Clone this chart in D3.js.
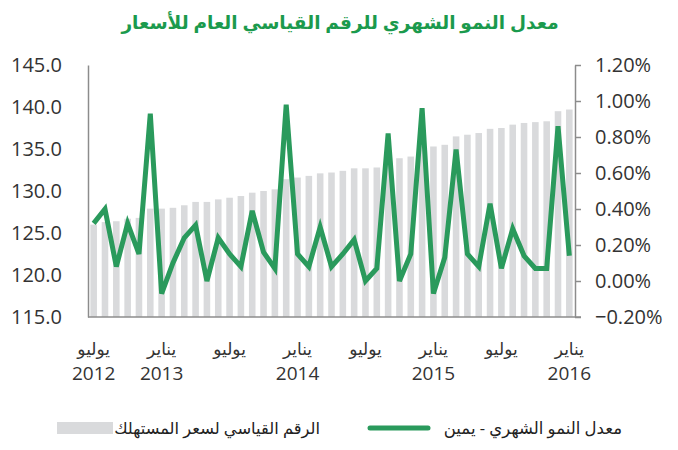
<!DOCTYPE html>
<html>
<head>
<meta charset="utf-8">
<script src="https://cdnjs.cloudflare.com/ajax/libs/d3/7.8.5/d3.min.js"></script>
<style>
    body { margin: 0; background: #ffffff; }
    svg text { font-family: "Open Sans", "DejaVu Sans", sans-serif; }
</style>
</head>
<body>
<svg id="cpiChart" width="678" height="450"></svg>
<script>
// months from July 2012 to January 2016
var months = ["2012-07", "2012-08", "2012-09", "2012-10", "2012-11", "2012-12",
    "2013-01", "2013-02", "2013-03", "2013-04", "2013-05", "2013-06",
    "2013-07", "2013-08", "2013-09", "2013-10", "2013-11", "2013-12",
    "2014-01", "2014-02", "2014-03", "2014-04", "2014-05", "2014-06",
    "2014-07", "2014-08", "2014-09", "2014-10", "2014-11", "2014-12",
    "2015-01", "2015-02", "2015-03", "2015-04", "2015-05", "2015-06",
    "2015-07", "2015-08", "2015-09", "2015-10", "2015-11", "2015-12",
    "2016-01"];

// consumer price index (left axis)
var cpiValues = [126.0, 126.3, 126.4, 126.7, 126.8, 127.9,
    127.9, 128.0, 128.3, 128.7, 128.7, 129.0,
    129.2, 129.4, 129.8, 130.0, 130.2, 131.4,
    131.6, 131.8, 132.1, 132.2, 132.4, 132.7,
    132.7, 132.8, 133.9, 133.9, 134.1, 135.4,
    135.3, 135.5, 136.5, 136.7, 136.9, 137.4,
    137.5, 137.9, 138.1, 138.2, 138.3, 139.5,
    139.7];

// monthly growth in percent (right axis)
var growthValues = [0.32, 0.40, 0.08, 0.32, 0.15, 0.93,
    -0.07, 0.10, 0.24, 0.31, 0.00, 0.24,
    0.15, 0.08, 0.39, 0.16, 0.07, 0.98,
    0.15, 0.08, 0.30, 0.08, 0.15, 0.23,
    0.00, 0.07, 0.82, 0.00, 0.15, 0.96,
    -0.07, 0.13, 0.73, 0.15, 0.08, 0.43,
    0.07, 0.29, 0.14, 0.07, 0.07, 0.86,
    0.14];

var leftTicks = [115, 120, 125, 130, 135, 140, 145];
var rightTicks = [-0.2, 0, 0.2, 0.4, 0.6, 0.8, 1.0, 1.2];

// x labels: month name row and year row
var monthLabels = [
    {month: "2012-07", name: "يوليو", year: "2012"},
    {month: "2013-01", name: "يناير", year: "2013"},
    {month: "2013-07", name: "يوليو", year: ""},
    {month: "2014-01", name: "يناير", year: "2014"},
    {month: "2014-07", name: "يوليو", year: ""},
    {month: "2015-01", name: "يناير", year: "2015"},
    {month: "2015-07", name: "يوليو", year: ""},
    {month: "2016-01", name: "يناير", year: "2016"}
];

var titleText = "معدل النمو الشهري للرقم القياسي العام للأسعار";
var legendBars = "الرقم القياسي لسعر المستهلك";
var legendLine = "معدل النمو الشهري - يمين";

var barColor = "#d9dadc";
var lineColor = "#2a9a5c";
var axisColor = "#8c8c8c";

/**
 * Draws the whole chart: bars, growth line, both axes and legend
 */
function drawCpiChart()
{
    var svg = d3.select("#cpiChart");
    var left = 88, right = 575, top = 65, bottom = 317;

    var x = d3.scaleBand()
            .domain(months)
            .range([left, right])
            .paddingInner(0.42)
            .paddingOuter(0.21);

    var yLeft = d3.scaleLinear()
            .domain([115, 145])
            .range([bottom, top]);

    var yRight = d3.scaleLinear()
            .domain([-0.2, 1.2])
            .range([bottom, top]);

    // title
    svg.append("text")
            .attr("x", 340)
            .attr("y", 29)
            .attr("text-anchor", "middle")
            .style("font-size", "18.5px")
            .style("font-weight", "bold")
            .style("fill", "#1b9a4d")
            .text(titleText);

    // bars
    svg.append("g")
            .selectAll("rect")
            .data(cpiValues)
            .enter()
            .append("rect")
            .attr("x", function(d, i) { return x(months[i]); })
            .attr("width", x.bandwidth())
            .attr("y", function(d) { return yLeft(d); })
            .attr("height", function(d) { return bottom - yLeft(d); })
            .style("fill", barColor);

    // left axis (line only, no ticks)
    var leftAxis = svg.append("g")
            .attr("transform", "translate(" + left + ",0)")
            .call(d3.axisLeft(yLeft).tickValues(leftTicks).tickSize(0).tickPadding(26)
                    .tickFormat(d3.format(".1f")));
    leftAxis.select(".domain").style("stroke", axisColor).style("stroke-width", "1.5px");
    leftAxis.selectAll("text")
            .style("font-size", "20px")
            .style("fill", "#333333");

    // right axis with small outward ticks
    var rightAxis = svg.append("g")
            .attr("transform", "translate(" + right + ",0)")
            .call(d3.axisRight(yRight).tickValues(rightTicks).tickSize(6).tickSizeOuter(0).tickPadding(14)
                    .tickFormat(d3.format(".2%")));
    rightAxis.select(".domain").style("stroke", axisColor).style("stroke-width", "1.5px");
    rightAxis.selectAll("line").style("stroke", axisColor).style("stroke-width", "1.5px");
    rightAxis.selectAll("text")
            .text(function(d) { return d3.format(".2f")(d) + "%"; })
            .style("font-size", "20px")
            .style("fill", "#333333");

    // bottom axis line
    var bottomAxis = svg.append("g")
            .attr("transform", "translate(0," + bottom + ")")
            .call(d3.axisBottom(x).tickValues([]).tickSizeOuter(0));
    bottomAxis.select(".domain")
            .attr("d", "M" + left + ",0H" + (right + 6))
            .style("stroke", axisColor)
            .style("stroke-width", "1.5px");

    // x labels
    var labels = svg.append("g")
            .selectAll("g")
            .data(monthLabels)
            .enter()
            .append("g")
            .attr("transform", function(d) {
                return "translate(" + (x(d.month) + x.bandwidth() / 2) + ",0)";
            });
    labels.append("text")
            .attr("y", 355)
            .attr("text-anchor", "middle")
            .style("font-size", "17px")
            .style("fill", "#333333")
            .text(function(d) { return d.name; });
    labels.append("text")
            .attr("y", 380)
            .attr("text-anchor", "middle")
            .style("font-size", "19px")
            .style("fill", "#333333")
            .text(function(d) { return d.year; });

    // growth line
    var line = d3.line()
            .x(function(d, i) { return x(months[i]) + x.bandwidth() / 2; })
            .y(function(d) { return yRight(d); });

    svg.append("path")
            .datum(growthValues)
            .style("stroke", lineColor)
            .style("fill", "none")
            .style("stroke-width", "5px")
            .style("stroke-linejoin", "miter")
            .attr("d", line);

    // legend
    svg.append("rect")
            .attr("x", 57)
            .attr("y", 422)
            .attr("width", 56)
            .attr("height", 12)
            .style("fill", barColor);
    svg.append("text")
            .attr("x", 320)
            .attr("y", 434)
            .attr("text-anchor", "end")
            .style("font-size", "16.3px")
            .style("fill", "#222222")
            .text(legendBars);

    svg.append("line")
            .attr("x1", 370)
            .attr("x2", 428)
            .attr("y1", 428)
            .attr("y2", 428)
            .style("stroke", lineColor)
            .style("stroke-width", "5px")
            .style("stroke-linecap", "round");
    svg.append("text")
            .attr("x", 622)
            .attr("y", 434)
            .attr("text-anchor", "end")
            .style("font-size", "16.5px")
            .style("fill", "#222222")
            .text(legendLine);
}

drawCpiChart();
</script>
</body>
</html>
